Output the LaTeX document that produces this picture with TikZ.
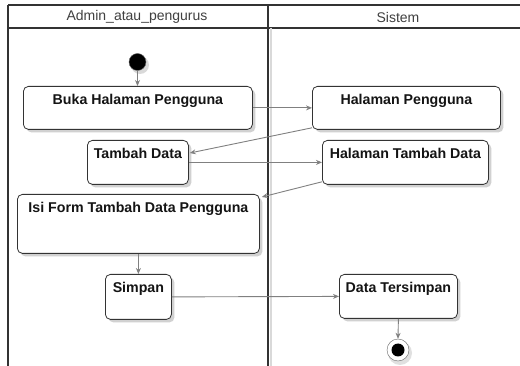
\documentclass[tikz,border=0pt]{standalone}
\usepackage{fontspec}
\setmainfont{Liberation Sans}
\usetikzlibrary{arrows.meta,shadows}
\begin{document}
\begin{tikzpicture}[x=1pt,y=-1pt,
  lane/.style={draw=black!80,line width=1.2pt},
  act/.style={draw=black!80,line width=0.8pt,rounded corners=5pt,fill=white,
    inner sep=0pt,minimum height=0pt,anchor=north west,
    font=\fontsize{14.2}{16}\selectfont\bfseries,text=black!92,
    text height=18.5pt,
    drop shadow={shadow xshift=3pt,shadow yshift=-3pt,fill=black!18,opacity=1}},
  flow/.style={draw=black!50,line width=0.9pt,-{Stealth[length=6pt,width=5pt]}},
  hdr/.style={font=\fontsize{14}{16}\selectfont,text=black!75}]
\useasboundingbox (0,0) rectangle (520,366);
\fill[white] (0,0) rectangle (520,366);

% swimlane frame
\draw[lane] (8,5) -- (520,5);
\draw[lane] (8,28) -- (520,28);
\draw[black!15,line width=2pt] (271,28) -- (271,366);
\draw[lane] (8,5) -- (8,366);
\draw[lane] (268,5) -- (268,366);
\node[hdr] (laneA) at (137,17) {Admin\_atau\_pengurus};
\node[hdr] (laneB) at (398,17) {Sistem};

% start and end markers
\fill[black!15] (140,65) circle (9);
\node[circle,fill=black,draw=black!60,minimum size=17pt,inner sep=0pt] (start) at (137.5,62) {};
\fill[black!12] (400,353) circle (12);
\node[circle,draw=black!60,fill=white,minimum size=22pt,inner sep=0pt] (end) at (398,350) {};
\fill[black] (end) circle (6.5);

% activities
\node[act,minimum width=229pt,text depth=24.5pt] (buka) at (23,86) {Buka Halaman Pengguna};
\node[act,minimum width=188pt,text depth=24.5pt] (hp) at (312,86) {Halaman Pengguna};
\node[act,minimum width=101pt,text depth=25.5pt] (tambah) at (87,140) {Tambah Data};
\node[act,minimum width=166pt,text depth=25.5pt] (htd) at (322,140) {Halaman Tambah Data};
\node[act,minimum width=242pt,text depth=40.5pt] (isi) at (17,194) {Isi Form Tambah Data Pengguna};
\node[act,minimum width=66pt,text depth=26.5pt] (simpan) at (105,274) {Simpan};
\node[act,minimum width=118pt,text depth=25.5pt] (dts) at (339,274) {Data Tersimpan};

% control flows (shifts are in page units, so positive yshift moves up)
\draw[flow] (start) -- (start |- buka.north);
\draw[flow] (buka.east) -- (hp.west);
\draw[flow] ([yshift=2pt]hp.south west) -- ([xshift=1pt,yshift=-13pt]tambah.north east);
\draw[flow] (tambah.east) -- (htd.west);
\draw[flow] ([yshift=3pt]htd.south west) -- ([xshift=2pt,yshift=-3pt]isi.north east);
\draw[flow] (isi.south -| simpan.north) -- (simpan.north);
\draw[flow] (simpan.east) -- (dts.west);
\draw[flow] (dts.south) -- (end.north);
\end{tikzpicture}
\end{document}
